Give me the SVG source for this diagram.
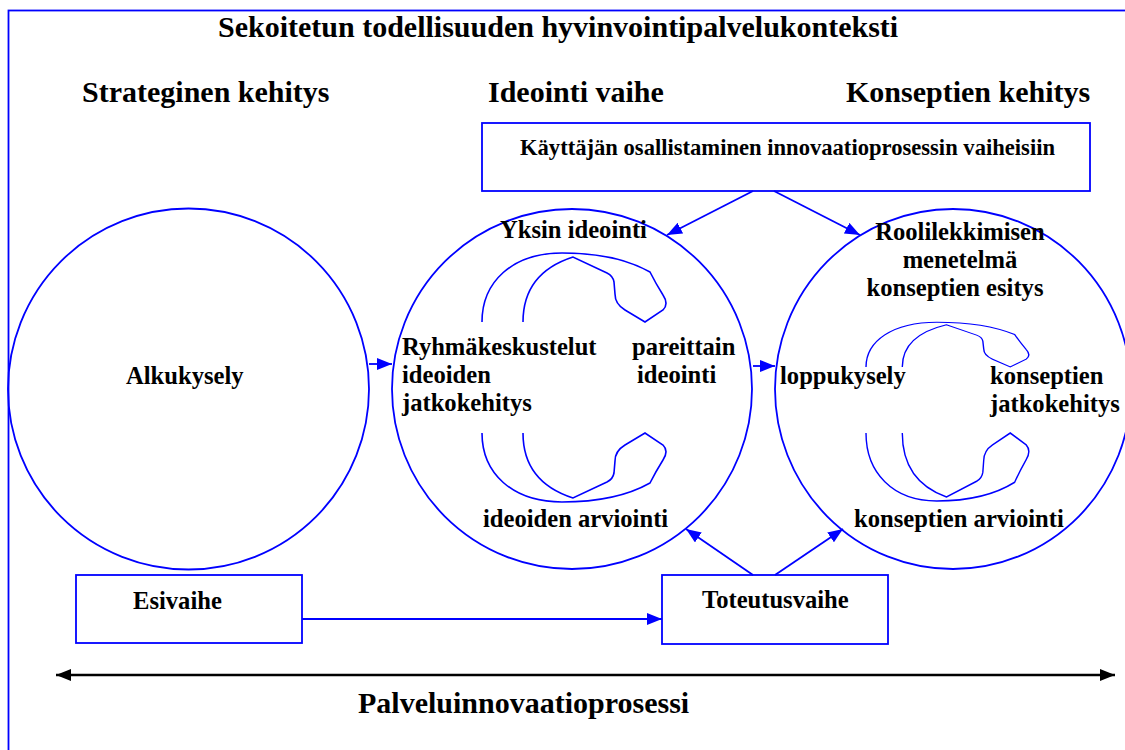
<svg xmlns="http://www.w3.org/2000/svg" width="1125" height="750" viewBox="0 0 1125 750" font-family="'Liberation Serif', 'DejaVu Serif', serif">
<style>
.shape{fill:none;stroke:#0000ff;stroke-width:1.8}
.box{fill:#ffffff;stroke:#0000ff;stroke-width:1.8}
.loop{fill:none;stroke:#0000ff;stroke-width:1.6}
.conn{fill:none;stroke:#0000ff;stroke-width:1.8}
.axis{fill:none;stroke:#000000;stroke-width:2.5}
text{font-family:'Liberation Serif','DejaVu Serif',serif;font-weight:bold;fill:#000000}
.hd{font-size:30px}
.lb{font-size:24.6px}
</style>
<defs>
<marker id="ab" markerUnits="userSpaceOnUse" markerWidth="16" markerHeight="13" refX="15" refY="6" orient="auto">
<path d="M0,0 L15,6 L0,12 z" fill="#0000ff"/>
</marker>
<marker id="ak" markerUnits="userSpaceOnUse" markerWidth="16" markerHeight="13" refX="15" refY="6" orient="auto-start-reverse">
<path d="M0,0 L15,6 L0,12 z" fill="#000000"/>
</marker>
<path id="lp" d="M0,0 C0,-40 30,-69 80,-69 C115,-69 145,-63 168,-50 C172,-42 176,-35 181,-27 Q187,-18 181,-12 L163,0 L143,-12 Q133,-18 133,-28 L132,-40 Q131,-46 125,-49 L91,-65 C60,-55 41,-35 41,0"/>
</defs>
<rect id="frame" x="8.5" y="10.5" width="1130" height="760" class="shape"/>
<g id="title"><text class="hd" x="218" y="37">Sekoitetun todellisuuden hyvinvointipalvelukonteksti</text></g>
<g id="h1"><text class="hd" x="82" y="102">Strateginen kehitys</text></g>
<g id="h2"><text class="hd" x="488" y="102">Ideointi vaihe</text></g>
<g id="h3"><text class="hd" x="846" y="102">Konseptien kehitys</text></g>
<g id="kayttaja">
<rect x="482" y="123" width="608" height="68" class="box"/>
<text x="520" y="155" font-size="24" textLength="535" lengthAdjust="spacingAndGlyphs">Käyttäjän osallistaminen innovaatioprosessin vaiheisiin</text>
</g>
<g id="alkukysely">
<circle cx="188.5" cy="389" r="180.5" class="shape"/>
<text class="lb" x="126" y="384">Alkukysely</text>
</g>
<g id="ideointi">
<circle cx="572" cy="389" r="180" class="shape"/>
<use href="#lp" class="loop" transform="translate(482,322)"/>
<use href="#lp" class="loop" transform="translate(482,433) scale(1,-1)"/>
<text class="lb" x="500" y="238">Yksin ideointi</text>
<text class="lb" x="402" y="355">Ryhmäkeskustelut</text>
<text class="lb" x="402" y="383">ideoiden</text>
<text class="lb" x="402" y="411">jatkokehitys</text>
<text class="lb" x="632" y="355">pareittain</text>
<text class="lb" x="637" y="383">ideointi</text>
<text class="lb" x="483" y="527">ideoiden arviointi</text>
</g>
<g id="konseptit">
<ellipse cx="953" cy="389" rx="178" ry="180" class="shape"/>
<use href="#lp" class="loop" transform="translate(866,367) scale(0.885,0.65)"/>
<use href="#lp" class="loop" transform="translate(866,433) scale(0.885,-0.985)"/>
<text class="lb" x="960" y="240" text-anchor="middle">Roolilekkimisen</text>
<text class="lb" x="960" y="268" text-anchor="middle">menetelmä</text>
<text class="lb" x="955" y="296" text-anchor="middle">konseptien esitys</text>
<text class="lb" x="780" y="384">loppukysely</text>
<text class="lb" x="990" y="384">konseptien</text>
<text class="lb" x="990" y="412">jatkokehitys</text>
<text class="lb" x="854" y="527">konseptien arviointi</text>
</g>
<g id="esivaihe">
<rect x="76" y="575" width="226" height="68" class="box"/>
<text class="lb" x="133" y="609">Esivaihe</text>
</g>
<g id="toteutus">
<rect x="662" y="575" width="226" height="69" class="box"/>
<text class="lb" x="702" y="608">Toteutusvaihe</text>
</g>
<g id="palvelu"><text class="hd" x="358" y="713">Palveluinnovaatioprosessi</text></g>
<g id="connectors">
<line x1="369" y1="364" x2="392" y2="364" class="conn" marker-end="url(#ab)"/>
<line x1="753" y1="366" x2="775" y2="366" class="conn" marker-end="url(#ab)"/>
<line x1="753" y1="191" x2="667" y2="235" class="conn" marker-end="url(#ab)"/>
<line x1="774" y1="191" x2="860" y2="235" class="conn" marker-end="url(#ab)"/>
<line x1="302" y1="619" x2="662" y2="619" class="conn" marker-end="url(#ab)"/>
<line x1="753" y1="575" x2="686" y2="529" class="conn" marker-end="url(#ab)"/>
<line x1="775" y1="575" x2="843" y2="529" class="conn" marker-end="url(#ab)"/>
<line x1="56" y1="675" x2="1115" y2="675" class="axis" marker-start="url(#ak)" marker-end="url(#ak)"/>
</g>
</svg>
